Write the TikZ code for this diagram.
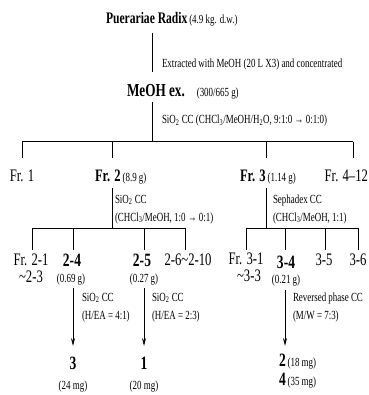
\documentclass[tikz,border=0pt]{standalone}
\usepackage{fontspec}
\setmainfont{Liberation Serif}[FakeStretch=0.72]
\usetikzlibrary{arrows.meta}
\newcommand\mysub[1]{\textsubscript{#1}}
\newcommand\tl{\textasciitilde}
\begin{document}
\begin{tikzpicture}[x=1pt,y=-1pt,
  every node/.style={inner sep=0pt,outer sep=0pt},
  sm/.style={font=\fontsize{12.4}{14}\selectfont},
  md/.style={font=\fontsize{17.6}{19}\selectfont},
  bd/.style={font=\fontsize{18.8}{20}\selectfont\bfseries},
  ln/.style={line width=1pt},
  arr/.style={ln,-{Stealth[length=8pt,width=4pt]}}]
\useasboundingbox (0,0) rectangle (368,395);
\newcommand\smt[1]{{\fontsize{12.4}{14}\selectfont #1}}
% ---- top part
\node[anchor=base west] (pr) at (106,24) {{\fontsize{16.1}{18}\selectfont\bfseries Puerariae Radix} \smt{(4.9 kg. d.w.)}};
\node[sm,anchor=base west] (ext) at (162,68) {Extracted with MeOH (20 L X3) and concentrated};
\node[anchor=base west] (meoh) at (127,97) {{\fontsize{18.3}{20}\selectfont\bfseries MeOH ex.}\hspace{12pt}\smt{(300/665 g)}};
\node[sm,anchor=base west] (cc1) at (162,124) {SiO\mysub{2} CC (CHCl\mysub{3}/MeOH/H\mysub{2}O, 9:1:0 → 0:1:0)};
\coordinate (p0) at (152,33); \coordinate (p1) at (152,72);
\coordinate (m0) at (152,102); \coordinate (m1) at (152,142);
\draw[ln] (p0) -- (p1);
\draw[ln] (m0) -- (m1);
% ---- first fractions
\node[md,anchor=base] (fr1) at (22,182) {Fr. 1};
\node[anchor=base west] (fr2) at (95,182) {{\fontsize{17.5}{19}\selectfont\bfseries Fr. 2} \smt{(8.9 g)}};
\node[anchor=base west] (fr3) at (240,182) {{\fontsize{17.5}{19}\selectfont\bfseries Fr. 3} \smt{(1.14 g)}};
\node[md,anchor=base east] (fr4) at (368,182) {Fr. 4–12};
\coordinate (b1) at (22,142); \coordinate (b2) at (112,142);
\coordinate (b3) at (266,142); \coordinate (b4) at (353,142);
\coordinate (d1) at (22,158); \coordinate (d2) at (112,158);
\coordinate (d3) at (266,158); \coordinate (d4) at (353,158);
\draw[ln] (b1) -- (b4);
\draw[ln] (b1) -- (d1); \draw[ln] (b2) -- (d2);
\draw[ln] (b3) -- (d3); \draw[ln] (b4) -- (d4);
% ---- Fr.2 separation
\coordinate (f2a) at (112,188); \coordinate (f2b) at (112,228);
\draw[ln] (f2a) -- (f2b);
\node[sm,anchor=base west] (cc2a) at (115,203) {SiO\mysub{2} CC};
\node[sm,anchor=base west] (cc2b) at (115,221) {(CHCl\mysub{3}/MeOH, 1:0 → 0:1)};
\coordinate (l1) at (32,228); \coordinate (l2) at (73,228);
\coordinate (l3) at (144,228); \coordinate (l4) at (185,228);
\coordinate (e1) at (32,250); \coordinate (e2) at (73,250);
\coordinate (e3) at (144,250); \coordinate (e4) at (185,250);
\draw[ln] (l1) -- (l4);
\draw[ln] (l1) -- (e1); \draw[ln] (l2) -- (e2);
\draw[ln] (l3) -- (e3); \draw[ln] (l4) -- (e4);
% ---- Fr.3 separation
\coordinate (f3a) at (266,188); \coordinate (f3b) at (266,228);
\draw[ln] (f3a) -- (f3b);
\node[sm,anchor=base west] (cc3a) at (273,203) {Sephadex CC};
\node[sm,anchor=base west] (cc3b) at (273,221) {(CHCl\mysub{3}/MeOH, 1:1)};
\coordinate (r1) at (246,228); \coordinate (r2) at (285,228);
\coordinate (r3) at (325,228); \coordinate (r4) at (358,228);
\coordinate (g1) at (246,250); \coordinate (g2) at (285,250);
\coordinate (g3) at (325,250); \coordinate (g4) at (358,250);
\draw[ln] (r1) -- (r4);
\draw[ln] (r1) -- (g1); \draw[ln] (r2) -- (g2);
\draw[ln] (r3) -- (g3); \draw[ln] (r4) -- (g4);
% ---- sub fractions
\node[md,anchor=base] (f21) at (31,265) {Fr. 2-1};
\node[md,anchor=base] (f21b) at (31,282) {\tl 2-3};
\node[bd,anchor=base] (n24) at (72,266) {2-4};
\node[sm,anchor=base] (n24w) at (71,282) {(0.69 g)};
\node[bd,anchor=base] (n25) at (142,266) {2-5};
\node[sm,anchor=base] (n25w) at (144,282) {(0.27 g)};
\node[md,anchor=base] (n26) at (188,265) {2-6\tl 2-10};
\node[md,anchor=base] (f31) at (246,264) {Fr. 3-1};
\node[md,anchor=base] (f31b) at (249,281) {\tl 3-3};
\node[bd,anchor=base] (n34) at (286,268) {3-4};
\node[sm,anchor=base] (n34w) at (286,283) {(0.21 g)};
\node[md,anchor=base] (n35) at (324,265) {3-5};
\node[md,anchor=base] (n36) at (358,265) {3-6};
% ---- arrows
\coordinate (a1) at (73,288); \coordinate (a2) at (73,346);
\coordinate (a3) at (144,288); \coordinate (a4) at (144,346);
\coordinate (a5) at (285,290); \coordinate (a6) at (285,346);
\draw[arr] (a1) -- (a2);
\draw[arr] (a3) -- (a4);
\draw[arr] (a5) -- (a6);
\node[sm,anchor=base west] (s1a) at (82,301) {SiO\mysub{2} CC};
\node[sm,anchor=base west] (s1b) at (82,319) {(H/EA = 4:1)};
\node[sm,anchor=base west] (s2a) at (152,301) {SiO\mysub{2} CC};
\node[sm,anchor=base west] (s2b) at (152,319) {(H/EA = 2:3)};
\node[sm,anchor=base west] (s3a) at (293,301) {Reversed phase CC};
\node[sm,anchor=base west] (s3b) at (293,319) {(M/W = 7:3)};
% ---- compounds
\node[bd,anchor=base] (c3) at (73,369) {3};
\node[sm,anchor=base] (c3w) at (73,389) {(24 mg)};
\node[bd,anchor=base] (c1) at (144,369) {1};
\node[sm,anchor=base] (c1w) at (144,389) {(20 mg)};
\node[anchor=base west] (c2) at (279,366) {{\fontsize{18.8}{20}\selectfont\bfseries 2} \smt{(18 mg)}};
\node[anchor=base west] (c4) at (279,385) {{\fontsize{18.8}{20}\selectfont\bfseries 4} \smt{(35 mg)}};
\end{tikzpicture}
\end{document}
